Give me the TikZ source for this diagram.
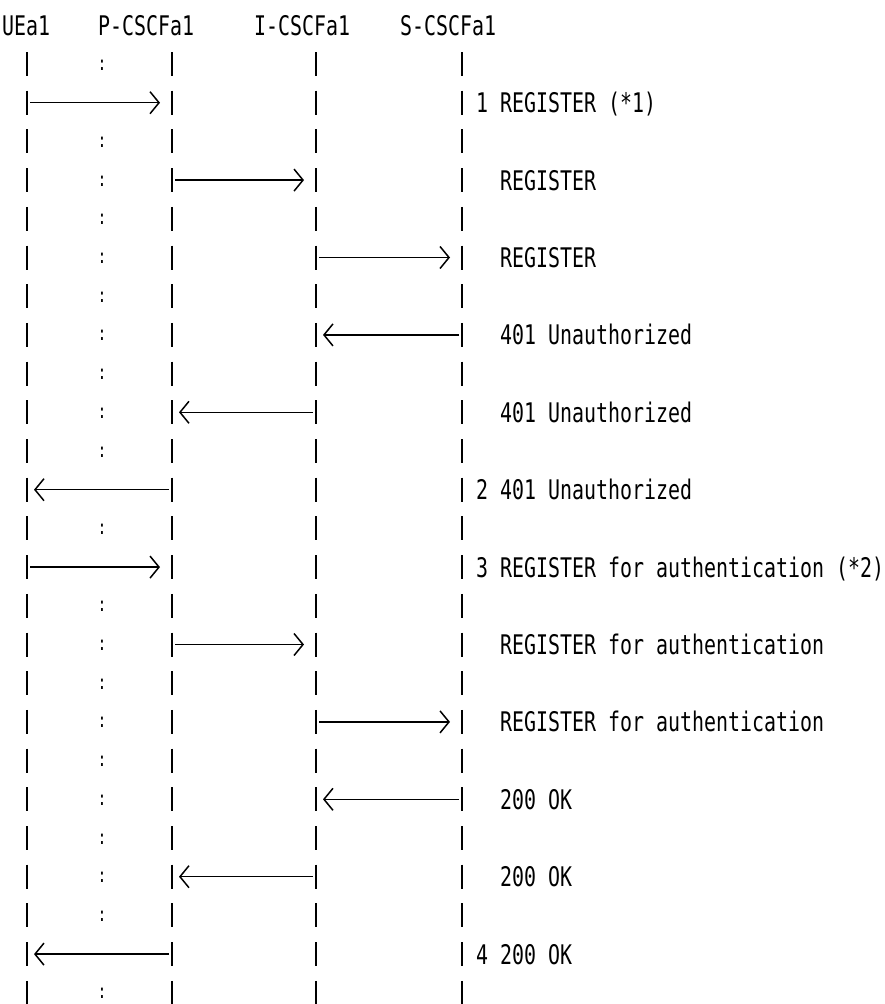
\documentclass[tikz,border=0pt]{standalone}
\usepackage{fontspec}
\newfontfamily\asciifont[FakeStretch=0.738]{DejaVu Sans Mono}
\usetikzlibrary{arrows.meta,calc}

\begin{document}
\begin{tikzpicture}[x=1pt,y=-1pt,
	bar/.style={line width=1.8pt},
	msg/.style={line width=1.5pt,-{Straight Barb[length=9pt,width=22pt,line width=1.5pt]}},
	txt/.style={anchor=base west,inner sep=0pt,font=\asciifont\fontsize{27}{32}\selectfont},
	dots/.style={anchor=base,inner sep=0pt,font=\asciifont\fontsize{20}{24}\selectfont}]
			%%%%% START %%%%%
			\useasboundingbox (0,0) rectangle (884,1004);
			
			\node[txt] (ue) at (2,35) {UEa1};
			\node[txt] (pcscf) at (98,35) {P-CSCFa1};
			\node[txt] (icscf) at (254,35) {I-CSCFa1};
			\node[txt] (scscf) at (400,35) {S-CSCFa1};
			
			% one text row each
			\foreach \r in {1,...,25}{
				\coordinate (ue-\r) at (27,{64+(\r-1)*38.7});
				\coordinate (p-\r) at (172,{64+(\r-1)*38.7});
				\coordinate (i-\r) at (316,{64+(\r-1)*38.7});
				\coordinate (s-\r) at (462,{64+(\r-1)*38.7});
				\foreach \l in {ue,p,i,s}
					\draw[bar] ($(\l-\r)+(0,-12)$) -- ($(\l-\r)+(0,12)$);
			}
			
			\foreach \r in {1,3,4,5,6,7,8,9,10,11,13,15,16,17,18,19,20,21,22,23,25}
				\node[dots] (col-\r) at ($(ue-\r)+(75,6)$) {:};
			
			% REGISTER
			\draw[msg] ($(ue-2)+(3,0)$) -- ($(p-2)+(-12,0)$);
			\node[txt] (m1) at ($(s-2)+(14,10)$) {1 REGISTER (*1)};
			\draw[msg] ($(p-4)+(3,0)$) -- ($(i-4)+(-12,0)$);
			\node[txt] (m1a) at ($(s-4)+(38,10)$) {REGISTER};
			\draw[msg] ($(i-6)+(3,0)$) -- ($(s-6)+(-12,0)$);
			\node[txt] (m1b) at ($(s-6)+(38,10)$) {REGISTER};
			
			% 401
			\draw[msg] ($(s-8)+(-3,0)$) -- ($(i-8)+(7,0)$);
			\node[txt] (m2b) at ($(s-8)+(38,10)$) {401 Unauthorized};
			\draw[msg] ($(i-10)+(-3,0)$) -- ($(p-10)+(7,0)$);
			\node[txt] (m2a) at ($(s-10)+(38,10)$) {401 Unauthorized};
			\draw[msg] ($(p-12)+(-3,0)$) -- ($(ue-12)+(7,0)$);
			\node[txt] (m2) at ($(s-12)+(14,10)$) {2 401 Unauthorized};
			
			% REGISTER again
			\draw[msg] ($(ue-14)+(3,0)$) -- ($(p-14)+(-12,0)$);
			\node[txt] (m3) at ($(s-14)+(14,10)$) {3 REGISTER for authentication (*2)};
			\draw[msg] ($(p-16)+(3,0)$) -- ($(i-16)+(-12,0)$);
			\node[txt] (m3a) at ($(s-16)+(38,10)$) {REGISTER for authentication};
			\draw[msg] ($(i-18)+(3,0)$) -- ($(s-18)+(-12,0)$);
			\node[txt] (m3b) at ($(s-18)+(38,10)$) {REGISTER for authentication};
			
			% 200
			\draw[msg] ($(s-20)+(-3,0)$) -- ($(i-20)+(7,0)$);
			\node[txt] (m4b) at ($(s-20)+(38,10)$) {200 OK};
			\draw[msg] ($(i-22)+(-3,0)$) -- ($(p-22)+(7,0)$);
			\node[txt] (m4a) at ($(s-22)+(38,10)$) {200 OK};
			\draw[msg] ($(p-24)+(-3,0)$) -- ($(ue-24)+(7,0)$);
			\node[txt] (m4) at ($(s-24)+(14,10)$) {4 200 OK};
			
			%%%%% END %%%%%
\end{tikzpicture}
\end{document}
